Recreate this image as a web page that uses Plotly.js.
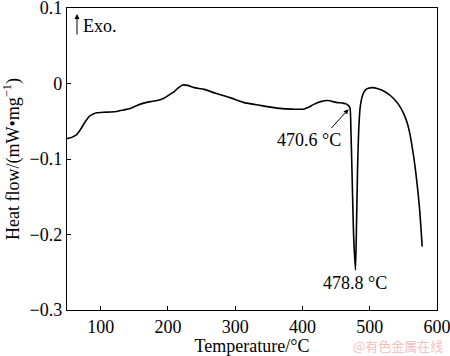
<!DOCTYPE html>
<html>
<head>
<meta charset="utf-8">
<script src="https://cdn.plot.ly/plotly-3.0.1.min.js"></script>
<style>html,body{margin:0;padding:0;background:#fff;}#chart{width:450px;height:356px;}</style>
</head>
<body>
<div id="chart"></div>
<script>
const temperature = [50, 55, 60, 64, 70, 74, 80, 84, 90, 94, 104, 115, 124, 134, 144, 154, 164, 174, 184, 194, 202, 209, 215, 222, 229, 239, 254, 271, 292, 312, 337, 366, 385, 401, 410, 416, 427, 438, 450, 460, 465, 468, 470.6, 472, 474, 476, 478.8, 480.5, 482, 484, 486, 490, 494, 498, 505, 512, 520, 528, 535, 543, 550, 556, 560, 565, 569, 574, 578];
const heatFlow = [-0.073, -0.072, -0.070, -0.068, -0.061, -0.055, -0.047, -0.043, -0.040, -0.0388, -0.038, -0.0378, -0.037, -0.035, -0.033, -0.029, -0.026, -0.024, -0.0225, -0.0195, -0.015, -0.011, -0.006, -0.002, -0.0025, -0.0055, -0.0078, -0.013, -0.0187, -0.025, -0.029, -0.033, -0.034, -0.034, -0.031, -0.028, -0.024, -0.0225, -0.025, -0.026, -0.027, -0.029, -0.032, -0.06, -0.13, -0.2, -0.247, -0.18, -0.11, -0.055, -0.03, -0.014, -0.008, -0.0062, -0.0055, -0.007, -0.0095, -0.014, -0.0196, -0.028, -0.039, -0.053, -0.068, -0.095, -0.122, -0.165, -0.216];
const xTicks = [100, 200, 300, 400, 500, 600];
const yTicks = [0.1, 0, -0.1, -0.2, -0.3];
const yTickText = ['0.1', '0', '\u22120.1', '\u22120.2', '\u22120.3'];
const peakLabels = ['470.6 \u00b0C', '478.8 \u00b0C'];

const font = {family: 'Liberation Serif, Times New Roman, serif', size: 18, color: '#000'};

Plotly.newPlot('chart', [{
  x: temperature, y: heatFlow, type: 'scatter', mode: 'lines',
  line: {color: '#000', width: 1.6, shape: 'spline', smoothing: 0.6},
  hoverinfo: 'skip'
}], {
  width: 450, height: 356,
  margin: {l: 67, r: 13, t: 8, b: 46},
  paper_bgcolor: '#fff', plot_bgcolor: '#fff',
  showlegend: false,
  font: font,
  xaxis: {
    range: [50, 600], tickvals: xTicks, ticktext: xTicks.map(String),
    ticks: 'inside', ticklen: 4, tickcolor: '#000', tickwidth: 1,
    ticklabeloverflow: 'allow',
    showline: true, linecolor: '#000', linewidth: 1.2, mirror: true,
    showgrid: false, zeroline: false, tickfont: font,
    title: {text: 'Temperature/\u00b0C', font: font, standoff: 2}
  },
  yaxis: {
    range: [-0.3, 0.1], tickvals: yTicks, ticktext: yTickText,
    ticks: 'inside', ticklen: 4, tickcolor: '#000', tickwidth: 1,
    ticklabeloverflow: 'allow',
    showline: true, linecolor: '#000', linewidth: 1.2, mirror: true,
    showgrid: false, zeroline: false, tickfont: font,
    title: {text: 'Heat flow/(mW\u2022mg<sup>\u22121</sup>)', font: font, standoff: 8}
  },
  annotations: [
    {x: temperature[42], y: heatFlow[42], xref: 'x', yref: 'y', text: '', showarrow: true,
     arrowhead: 2, arrowsize: 1, arrowwidth: 1, arrowcolor: '#000', standoff: 2,
     ax: 441, ay: -0.061, axref: 'x', ayref: 'y'},
    {x: 460.6, y: -0.059, xref: 'x', yref: 'y', text: peakLabels[0], showarrow: false,
     xanchor: 'right', yanchor: 'top', font: font},
    {x: temperature[46], y: -0.248, xref: 'x', yref: 'y', text: peakLabels[1], showarrow: false,
     xanchor: 'center', yanchor: 'top', font: font},
    {x: 0.027, y: 0.98, xref: 'paper', yref: 'paper', text: '', showarrow: true,
     arrowhead: 2, arrowsize: 1, arrowwidth: 1, arrowcolor: '#000', ax: 0, ay: 22},
    {x: 0.037, y: 0.94, xref: 'paper', yref: 'paper', text: 'Exo.', showarrow: false,
     xanchor: 'left', yanchor: 'middle', font: font},
    {x: 1.02, y: -0.119, xref: 'paper', yref: 'paper', text: '@有色金属在线', showarrow: false,
     xanchor: 'right', yanchor: 'middle', borderpad: 0,
     font: {family: 'Noto Sans CJK SC', size: 13, color: '#f5c0c0'}}
  ]
}, {staticPlot: true, displayModeBar: false});
</script>
</body>
</html>
